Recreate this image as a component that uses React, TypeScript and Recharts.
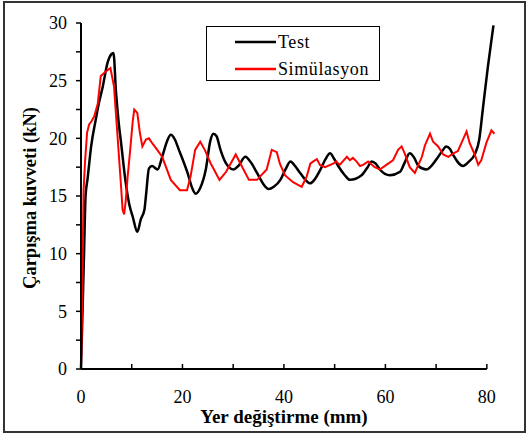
import { LineChart, Line, XAxis, YAxis, ReferenceLine, Legend, Label } from "recharts"

const serif = "Liberation Serif, DejaVu Serif, serif"

// Test (black) curve
const testX = [0, 0.3, 0.6, 0.9, 1.3, 2, 2.9, 3.5, 4.3, 5.2, 6.0, 6.4, 6.9, 7.4, 7.9, 8.8, 9.5, 10.2, 11.1, 11.8, 12.5, 12.8, 13.4, 14, 15.1, 16, 17, 17.7, 18.5, 19.3, 21, 22, 22.6, 23.5, 24.6, 25.5, 26.1, 26.7, 27.5, 28.5, 30.1, 31, 32.4, 33.5, 34.7, 36, 37, 38, 39.3, 40.3, 41.3, 42.2, 43.2, 45.2, 46, 47.2, 48.2, 49.1, 49.8, 50.7, 52, 53, 55.3, 56.5, 57.3, 58.1, 58.9, 60.9, 62.9, 63.8, 64.8, 65.7, 66.5, 68.1, 70.1, 71.2, 72, 72.7, 73.3, 75.3, 76.5, 77.6, 78.5, 79.2, 80.2, 81.3]
const testY = [0, 5, 10, 15, 16.5, 19.3, 21.6, 23, 24.5, 26.5, 27.3, 27.4, 24, 21.5, 19.6, 16.2, 14.3, 13.2, 11.9, 13, 13.8, 15, 17.4, 17.6, 17.3, 18.4, 19.8, 20.3, 19.9, 19, 17, 15.6, 15.2, 15.7, 17.3, 19.8, 20.4, 20.2, 19, 17.9, 17.3, 17.6, 18.4, 17.9, 17, 16, 15.6, 15.8, 16.4, 17.3, 18, 17.6, 17, 16.1, 16.4, 17.3, 18.2, 18.7, 18.3, 17.6, 16.8, 16.4, 16.8, 17.5, 18, 17.8, 17.3, 16.8, 17.1, 17.9, 18.7, 18.3, 17.6, 17.3, 18.2, 18.9, 19.3, 19.1, 18.6, 17.6, 18, 18.6, 19.9, 22.5, 26.2, 29.8]

// Simülasyon (red) curve
const simX = [0, 0.2, 0.35, 0.5, 0.8, 1.2, 1.6, 2.1, 2.6, 3.3, 3.9, 4.9, 5.8, 6.5, 7.2, 7.9, 8.2, 8.5, 8.8, 9.2, 9.7, 10.2, 10.5, 11.1, 11.6, 12.1, 12.8, 13.4, 14, 14.7, 16, 17.7, 19.5, 20.9, 21.6, 22.5, 23.5, 24.4, 25.6, 27.3, 28.6, 30.5, 31.8, 33.1, 34.7, 36.6, 37.6, 38.6, 39.2, 40.2, 41.8, 43.5, 44.5, 45.2, 45.8, 46.5, 47.1, 48.1, 49.7, 50.3, 51.0, 52.4, 53.0, 53.6, 54.3, 55.0, 55.6, 56.6, 57.9, 58.9, 60.2, 61.5, 62.5, 63.2, 63.8, 64.8, 65.8, 66.5, 67.2, 67.8, 68.8, 69.4, 70.4, 71.4, 72.4, 73.4, 74.3, 75, 76, 76.6, 77.6, 78.3, 78.9, 79.9, 80.9, 81.5]
const simY = [0, 5, 10, 15.4, 18, 20.5, 21.2, 21.5, 21.9, 23, 25.4, 25.8, 26.1, 24.5, 20.2, 15.8, 13.8, 13.4, 14.5, 16.7, 19, 21.5, 22.5, 22.2, 20.5, 19.3, 19.9, 20, 19.6, 19.2, 18.4, 16.4, 15.5, 15.5, 16.7, 19, 19.7, 19, 17.8, 16.4, 17.1, 18.6, 17.5, 16.4, 16.4, 17.3, 19, 18.8, 17.8, 16.8, 16.2, 15.8, 16.7, 17.8, 18, 18.2, 17.7, 17.5, 17.8, 18, 17.7, 18.4, 18.1, 18.3, 18, 17.6, 17.7, 18, 17.5, 17.3, 17.7, 18.1, 19, 19.3, 18.7, 17.5, 17, 17.7, 18.4, 19.4, 20.4, 19.7, 19.3, 18.6, 18.4, 18.7, 18.9, 19.6, 20.6, 19.6, 18.6, 17.7, 18.1, 19.6, 20.7, 20.4]

const xTicks = [0, 10, 20, 30, 40, 50, 60, 70, 80]
const yTicks = [0, 2.5, 5, 7.5, 10, 12.5, 15, 17.5, 20, 22.5, 25, 27.5, 30]
const legendOrder = ["Test", "Simülasyon"]

const testData = testX.map((x, i) => ({ x, y: testY[i] }))
const simData = simX.map((x, i) => ({ x, y: simY[i] }))

const X_MARGIN = 21

function XTick(props: any) {
  const { x, y, payload } = props
  const axisY = y - X_MARGIN
  return (
    <g>
      <line x1={x} x2={x} y1={axisY} y2={axisY - 5} stroke="#000" strokeWidth={1.5} />
      {payload.value % 20 === 0 && (
        <text x={x} y={y} dy="0.71em" textAnchor="middle" fontSize={18} fontFamily={serif} fill="#000">
          {payload.value}
        </text>
      )}
    </g>
  )
}

function LegendBox(props: any) {
  const items = [...(props.payload || [])].sort(
    (a: any, b: any) => legendOrder.indexOf(a.value) - legendOrder.indexOf(b.value)
  )
  return (
    <div
      style={{
        position: "relative",
        width: 174,
        height: 55,
        border: "1.5px solid #000",
        boxSizing: "border-box",
        background: "#fff",
        fontFamily: serif,
        fontSize: 18,
      }}
    >
      {items.map((item: any, i: number) => (
        <div key={item.value} style={{ position: "absolute", left: 28, top: 4 + i * 26.5, height: 22, display: "flex", alignItems: "center" }}>
          <svg width={41} height={22}>
            <line x1={0} x2={41} y1={11} y2={11} stroke={item.color} strokeWidth={2.5} />
          </svg>
          <span style={{ marginLeft: 2, letterSpacing: 0.6, lineHeight: "22px" }}>{item.value}</span>
        </div>
      ))}
    </div>
  )
}

export default function App() {
  return (
    <div style={{ position: "absolute", left: 0, top: 0, width: 529, height: 435, background: "#fff" }}>
      <div
        style={{
          position: "absolute",
          left: 3,
          top: 1,
          width: 523,
          height: 432,
          border: "2px solid #333",
          boxSizing: "border-box",
        }}
      />
      <LineChart width={529} height={435} margin={{ top: 23, right: 32, bottom: 36, left: 21 }}>
        <XAxis
          type="number"
          dataKey="x"
          domain={[0, 82]}
          ticks={xTicks}
          tick={<XTick />}
          tickLine={false}
          tickSize={0}
          tickMargin={X_MARGIN}
          axisLine={false}
          height={30}
          interval={0}
        />
        <YAxis
          type="number"
          domain={[0, 30]}
          ticks={yTicks}
          interval={0}
          width={60}
          tickSize={5}
          tickMargin={9}
          tickFormatter={(v: number) => (v % 5 === 0 ? String(v) : "")}
          tick={{ fontSize: 18, fontFamily: serif, fill: "#000" }}
          tickLine={{ stroke: "#000", strokeWidth: 1.5 }}
          axisLine={{ stroke: "#000", strokeWidth: 2 }}
        >
          <Label
            content={() => (
              <text
                x={30}
                y={198}
                transform="rotate(-90 30 198)"
                textAnchor="middle"
                dominantBaseline="central"
                fontSize={18.5}
                fontWeight="bold"
                fontFamily={serif}
                fill="#000"
              >
                Çarpışma  kuvveti (kN)
              </text>
            )}
          />
        </YAxis>
        <ReferenceLine
          segment={[{ x: 0, y: 0 }, { x: 80, y: 0 }]}
          stroke="#000"
          strokeWidth={2}
        />
        <Line
          data={testData}
          dataKey="y"
          name="Test"
          type="monotone"
          stroke="#000"
          strokeWidth={2.5}
          dot={false}
          activeDot={false}
          isAnimationActive={false}
        />
        <Line
          data={simData}
          dataKey="y"
          name="Simülasyon"
          type="linear"
          stroke="#ff0000"
          strokeWidth={2}
          dot={false}
          activeDot={false}
          isAnimationActive={false}
        />
        <Legend
          layout="vertical"
          align="center"
          verticalAlign="middle"
          content={<LegendBox />}
          wrapperStyle={{ position: "absolute", left: 206, top: 26, width: 174, height: 55 }}
        />
        <text x={284} y={416} textAnchor="middle" dominantBaseline="central" fontSize={19} fontWeight="bold" fontFamily={serif} fill="#000">
          Yer değiştirme (mm)
        </text>
      </LineChart>
    </div>
  )
}
